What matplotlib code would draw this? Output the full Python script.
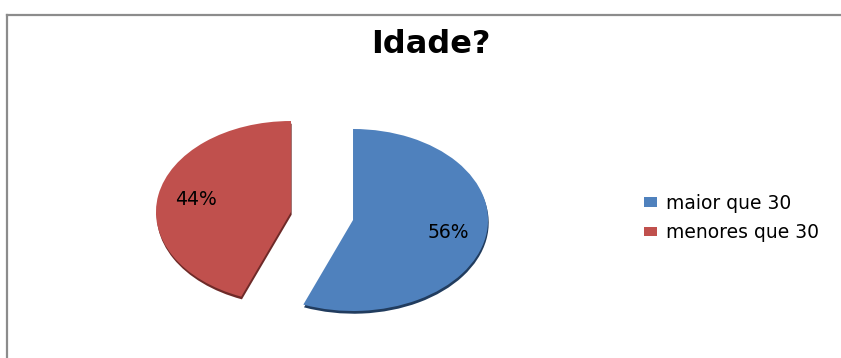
import matplotlib
matplotlib.use("Agg")
import matplotlib.pyplot as plt
from matplotlib.patches import Patch
from matplotlib.lines import Line2D

# ---- data ----
title = "Idade?"
categories = ["maior que 30", "menores que 30"]
values = [56, 44]
colors = ["#4F81BD", "#C0504D"]
rim_colors = ["#213C5E", "#6E2A28"]

W, H = 841, 358
fig = plt.figure(figsize=(W / 100, H / 100), dpi=100)
fig.patch.set_facecolor("white")
plt.rcParams["font.family"] = ["DejaVu Sans"]

# frame (only left and top edges visible in reference)
fig.add_artist(Line2D([7 / W, 7 / W], [0, 1 - 15 / H], color="#8C8C8C", lw=1.6,
                      transform=fig.transFigure))
fig.add_artist(Line2D([7 / W, 1], [1 - 15 / H, 1 - 15 / H], color="#8C8C8C", lw=1.6,
                      transform=fig.transFigure))

# axes so that unit radius -> 135 px horizontally, 91 px vertically
cx, cy = 322, 216
rx, ry = 135, 91
ax = fig.add_axes([(cx - 1.5 * rx) / W, (H - cy - 1.5 * ry) / H, 3 * rx / W, 3 * ry / H])

explode = [0.234, 0.234]
# darker rim underneath for the 3D edge
ax.pie(values, colors=rim_colors, startangle=90, counterclock=False,
       explode=explode, center=(0.005, -0.03), wedgeprops=dict(linewidth=0))
wedges, texts, autotexts = ax.pie(values, colors=colors, startangle=90, counterclock=False,
                                  explode=explode, autopct="%1.0f%%", pctdistance=0.72,
                                  wedgeprops=dict(linewidth=0),
                                  textprops=dict(fontsize=13.5, color="black"))
ax.set_aspect("auto")
ax.set_xlim(-1.5, 1.5)
ax.set_ylim(-1.5, 1.5)
ax.axis("off")

fig.text(431 / W, 1 - 53 / H, title, ha="center", va="baseline",
         fontsize=23, fontweight="bold", color="black")

handles = [Patch(facecolor=c, edgecolor="none") for c in colors]
fig.legend(handles, categories, loc="center left", bbox_to_anchor=(644 / W, 1 - 218 / H),
           frameon=False, fontsize=13.5, handlelength=0.67, handleheight=0.4,
           handletextpad=0.5, labelspacing=0.55, borderpad=0, borderaxespad=0)

fig.savefig("out.png", dpi=100, facecolor="white")
